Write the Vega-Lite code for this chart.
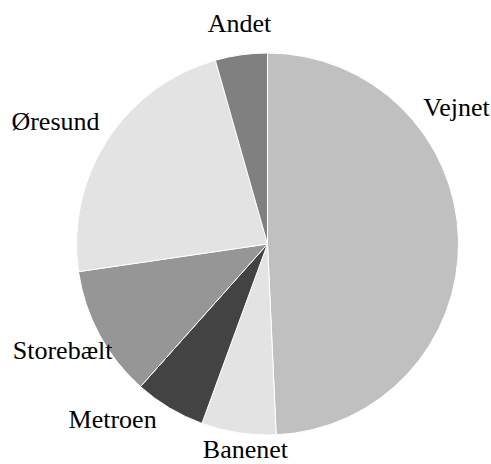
{
  "$schema": "https://vega.github.io/schema/vega-lite/v6.json",
  "width": 447,
  "height": 440,
  "autosize": {"type": "none"},
  "padding": {"left": 44, "top": 24, "right": 0, "bottom": 0},
  "background": "white",
  "view": {"stroke": null},
  "data": {
    "values": [
      {"nr": 1, "kategori": "Vejnet", "andel": 49.25},
      {"nr": 2, "kategori": "Banenet", "andel": 6.3},
      {"nr": 3, "kategori": "Metroen", "andel": 6.0},
      {"nr": 4, "kategori": "Storebælt", "andel": 11.1},
      {"nr": 5, "kategori": "Øresund", "andel": 22.9},
      {"nr": 6, "kategori": "Andet", "andel": 4.4}
    ]
  },
  "encoding": {
    "theta": {"field": "andel", "type": "quantitative", "stack": true},
    "order": {"field": "nr", "type": "quantitative"}
  },
  "layer": [
    {
      "mark": {"type": "arc", "outerRadius": 191, "stroke": "white", "strokeWidth": 1},
      "encoding": {
        "color": {
          "field": "kategori",
          "type": "nominal",
          "scale": {
            "domain": ["Vejnet", "Banenet", "Metroen", "Storebælt", "Øresund", "Andet"],
            "range": ["#c0c0c0", "#e3e3e3", "#434343", "#969696", "#e3e3e3", "#808080"]
          },
          "legend": null
        }
      }
    },
    {
      "mark": {
        "type": "text",
        "radius": 218,
        "font": "Liberation Serif",
        "fontSize": 26,
        "fill": "black",
        "align": "center",
        "baseline": "middle",
        "dx": {"expr": "datum.kategori === 'Vejnet' ? -29 : datum.kategori === 'Metroen' ? -43 : datum.kategori === 'Øresund' ? -29 : datum.kategori === 'Storebælt' ? -13 : datum.kategori === 'Banenet' ? 11 : 2"},
        "dy": {"expr": "datum.kategori === 'Vejnet' ? -131 : datum.kategori === 'Metroen' ? -11 : datum.kategori === 'Øresund' ? -4 : datum.kategori === 'Storebælt' ? 4 : datum.kategori === 'Banenet' ? -9 : -4"}
      },
      "encoding": {
        "text": {"field": "kategori", "type": "nominal"}
      }
    }
  ]
}
